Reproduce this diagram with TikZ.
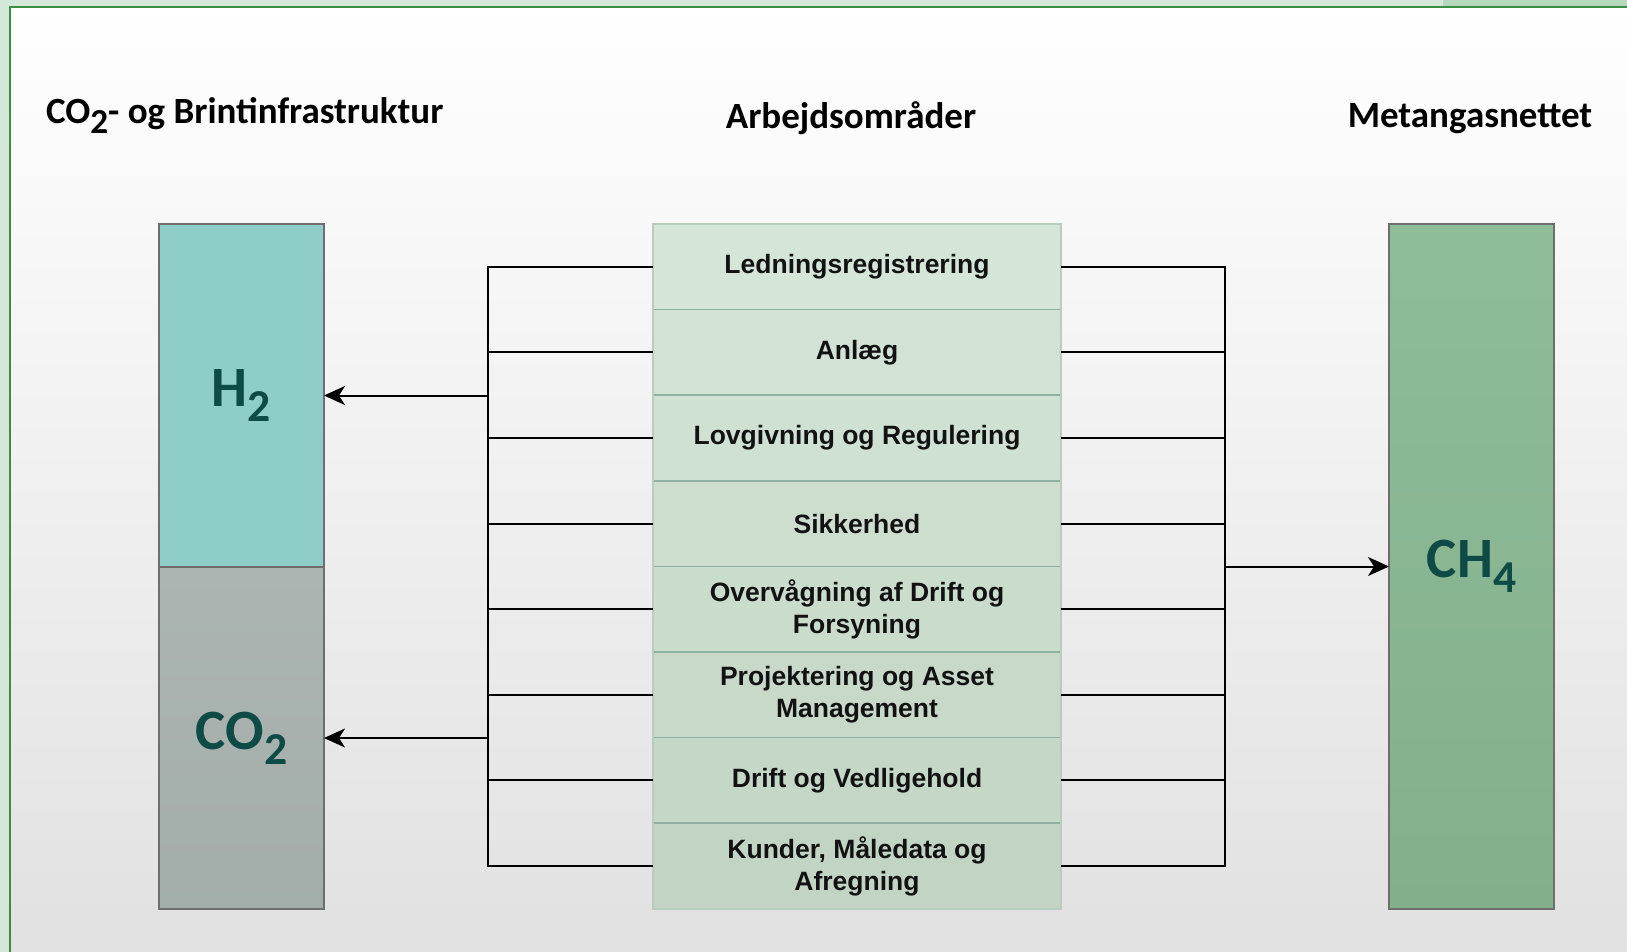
\documentclass[tikz,border=0pt]{standalone}
\usepackage{fontspec}
\setmainfont{Liberation Sans}
\newfontfamily\headfont{Carlito}
\usetikzlibrary{positioning,arrows.meta}

\definecolor{frame}{HTML}{D4E8DA}
\definecolor{framedark}{HTML}{B7D7BF}
\definecolor{framegreen}{HTML}{3A8E44}
\definecolor{bgmid}{HTML}{FAFAFA}
\definecolor{bgbot}{HTML}{E1E1E1}
\definecolor{celltop}{HTML}{D5E6D8}
\definecolor{cellbot}{HTML}{C2D4C3}
\definecolor{cellline}{HTML}{90B1A1}
\definecolor{cellouter}{HTML}{B6CDBF}
\definecolor{hfill}{HTML}{8FCDC8}
\definecolor{cotop}{HTML}{ACB5B2}
\definecolor{cobot}{HTML}{A3ADAA}
\definecolor{chtop}{HTML}{8FBD99}
\definecolor{chbot}{HTML}{84AF8B}
\definecolor{barline}{HTML}{6E6E6E}
\definecolor{labeltext}{HTML}{0F4B46}

% lowered digit for the chemical formulas
\newcommand{\chemsub}[2][0.8]{\raisebox{-0.27em}{\scalebox{#1}{#2}}}

\begin{document}
\begin{tikzpicture}[x=1pt, y=-1pt, line width=2pt,
    cell/.style = {draw=cellline, line width=1.5pt, minimum width=408pt, minimum height=85.6pt,
        inner sep=0pt, outer sep=0pt, align=center, text=black!93,
        font=\fontsize{26.5}{32}\selectfont\bfseries},
    bar/.style = {draw=barline, line width=1.5pt, minimum width=165pt, inner sep=0pt, outer sep=0pt,
        text=labeltext, font=\headfont\fontsize{57}{64}\selectfont\bfseries},
    head/.style = {inner sep=0pt, font=\headfont\fontsize{37}{42}\selectfont\bfseries},
    arr/.style = {-{Stealth[length=21pt, width=19pt, inset=6pt]}}]
    \useasboundingbox (0,0) rectangle (1627,952);

    % canvas and window edge
    \shade[top color=white, middle color=bgmid, bottom color=bgbot] (0,0) rectangle (1627,952);
    \fill[frame] (0,0) rectangle (1627,6);
    \fill[frame] (0,0) rectangle (9,952);
    \fill[framedark] (1443,0) rectangle (1627,6);
    \draw[framegreen] (10,952) -- (10,7) -- (1627,7);

    % headings
    \node[head, anchor=base west] (left) at (45,124) {CO\chemsub[0.95]{2}- og Brintinfrastruktur};
    \node[head, anchor=base] (mid) at (851,129) {Arbejdsområder};
    \node[head, anchor=base] (right) at (1470,128) {Metangasnettet};

    % work areas
    \node[cell, anchor=north, fill=celltop] (1) at (857,224) {Ledningsregistrering};
    \node[cell, below=0pt of 1, fill=celltop!86!cellbot] (2) {Anlæg};
    \node[cell, below=0pt of 2, fill=celltop!71!cellbot] (3) {Lovgivning og Regulering};
    \node[cell, below=0pt of 3, fill=celltop!57!cellbot] (4) {Sikkerhed};
    \node[cell, below=0pt of 4, fill=celltop!43!cellbot] (5) {Overvågning af Drift og\\Forsyning};
    \node[cell, below=0pt of 5, fill=celltop!29!cellbot] (6) {Projektering og Asset\\Management};
    \node[cell, below=0pt of 6, fill=celltop!14!cellbot] (7) {Drift og Vedligehold};
    \node[cell, below=0pt of 7, fill=cellbot] (8) {Kunder, Måledata og\\Afregning};
    \draw[cellouter, line width=1.5pt] (1.north west) rectangle (8.south east);

    % gas columns
    \node[bar, anchor=north west, minimum height=343pt, fill=hfill] (h2) at (159,224) {H\chemsub{2}};
    \node[bar, below=0pt of h2, minimum height=342pt, top color=cotop, bottom color=cobot] (co2) {CO\chemsub{2}};
    \node[bar, anchor=north west, minimum height=685pt, top color=chtop, bottom color=chbot] (ch4) at (1389,224) {CH\chemsub{4}};

    % collector lines
    \coordinate (lbus) at (488,0);
    \coordinate (rbus) at (1225,0);
    \draw (1.west) -- (1.west -| lbus) -- (8.west -| lbus) -- (8.west);
    \draw (2.west) -- (2.west -| lbus);
    \draw (3.west) -- (3.west -| lbus);
    \draw (4.west) -- (4.west -| lbus);
    \draw (5.west) -- (5.west -| lbus);
    \draw (6.west) -- (6.west -| lbus);
    \draw (7.west) -- (7.west -| lbus);
    \draw (1.east) -- (1.east -| rbus) -- (8.east -| rbus) -- (8.east);
    \draw (2.east) -- (2.east -| rbus);
    \draw (3.east) -- (3.east -| rbus);
    \draw (4.east) -- (4.east -| rbus);
    \draw (5.east) -- (5.east -| rbus);
    \draw (6.east) -- (6.east -| rbus);
    \draw (7.east) -- (7.east -| rbus);
    \draw[arr] (h2.east -| lbus) -- (h2.east);
    \draw[arr] (co2.east -| lbus) -- (co2.east);
    \draw[arr] (ch4.west -| rbus) -- (ch4.west);
\end{tikzpicture}
\end{document}
